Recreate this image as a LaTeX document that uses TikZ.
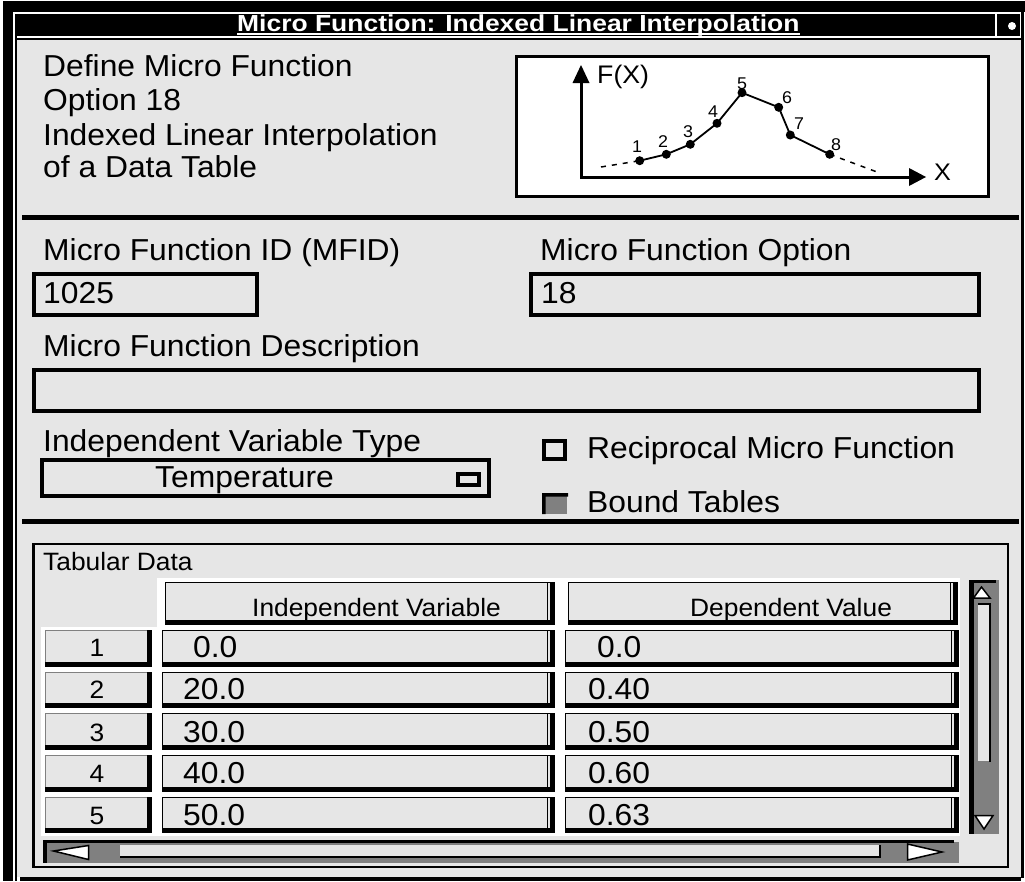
\documentclass[tikz,border=0pt]{standalone}
\usepackage{fontspec}
\setmainfont{Liberation Sans}[FakeStretch=1.05]
\newfontfamily\titlefont{Liberation Sans}[FakeStretch=1.14]
\usetikzlibrary{arrows.meta}
\definecolor{panel}{RGB}{230,230,230}
\definecolor{midgray}{RGB}{128,128,128}

% raised table cell: thin outline, heavy bottom/right edge, inner ridge
\newcommand\datacell[4]{%
  \fill[panel] (#1,#2) rectangle (#3,#4);
  \draw[line width=1pt] (#1+0.5,#2+0.5) rectangle (#3-0.5,#4-0.5);
  \fill[black] (#1,#4-5) rectangle (#3,#4);
  \fill[black] (#3-5,#2) rectangle (#3,#4);
  \draw[line width=1pt] (#3-8,#2) -- (#3-8,#4-5);
}
% row number button
\newcommand\rowbtn[4]{%
  \fill[panel] (#1,#2) rectangle (#3,#4);
  \draw[line width=1pt, draw=midgray] (#1+0.5,#2+0.5) rectangle (#3-0.5,#4-0.5);
  \fill[black] (#1,#4-5) rectangle (#3,#4);
  \fill[black] (#3-5,#2) rectangle (#3,#4);
}

\begin{document}
\begin{tikzpicture}[x=1pt,y=-1pt,
  body/.style={anchor=base west, inner sep=0pt, font=\fontsize{30.3}{34}\selectfont},
  smalltext/.style={anchor=base west, inner sep=0pt, font=\fontsize{25.1}{28}\selectfont},
  rownum/.style={anchor=base, inner sep=0pt, font=\fontsize{25.1}{28}\selectfont},
  ptlabel/.style={inner sep=0pt, font=\fontsize{17}{19}\selectfont},
  field/.style={draw=black, line width=4pt, fill=panel},
  axis/.style={line width=3pt},
  curve/.style={line width=1.8pt},
  dots/.style={line width=1.5pt, dash pattern=on 5pt off 6pt},
]
\useasboundingbox (0,0) rectangle (1025,881);
\fill[white] (0,0) rectangle (1025,881);

% window frame
\fill[black] (3,1) rectangle (1025,12);
\fill[black] (3,1) rectangle (13,881);
\fill[black] (15,14) rectangle (17,881);
\fill[black] (1021,1) rectangle (1024,878);
\fill[panel] (17,40) rectangle (1021,877);
\fill[black] (17,37.5) rectangle (1021,39.5);
\fill[black] (20,877) rectangle (1021,881);

% title bar
\fill[black] (15,14) rectangle (995,36);
\fill[black] (997,14) rectangle (1020,36);
\fill[white] (1012,26) circle[radius=4pt];
\node[anchor=base west, text=white, inner sep=0pt,
      font=\titlefont\bfseries\fontsize{23.2}{26}\selectfont] (title) at (237,31.7)
      {Micro Function: Indexed Linear Interpolation};
\draw[white, line width=1.5pt] ([yshift=-2.5pt]title.base west) -- ([yshift=-2.5pt]title.base east);

% heading text
\node[body] (def1) at (43,76) {Define Micro Function};
\node[body] (def2) at (43,110) {Option 18};
\node[body] (def3) at (43,145) {Indexed Linear Interpolation};
\node[body] (def4) at (43,177) {of a Data Table};

% sketch of the interpolated curve
\draw[line width=3pt, fill=white] (516.5,56.5) rectangle (988.5,196.5);
\coordinate (ytip) at (581,65);
\coordinate (xtip) at (926,177);
\draw[axis] (581,80) -- (581,177) -- (910,177);
\fill (ytip) -- (572.5,83) -- (589.5,83) -- cycle;
\fill (xtip) -- (909,168) -- (909,186) -- cycle;
\node[anchor=base west, inner sep=0pt, font=\fontsize{25.4}{28}\selectfont] (fx) at (597,83) {F(X)};
\node[anchor=base west, inner sep=0pt, font=\fontsize{24}{26}\selectfont] (xl) at (934,180) {X};
\coordinate (d1) at (601,167);
\coordinate (d2) at (877,172);
\foreach \n/\px/\py in {1/639.7/160.7, 2/666.3/154.3, 3/690.3/144.3, 4/717/123.3,
                        5/742/92.7, 6/778.7/107.3, 7/790.3/135, 8/829.7/154.3}
  \coordinate (p\n) at (\px,\py);
\draw[curve] (p1) -- (p2) -- (p3) -- (p4) -- (p5) -- (p6) -- (p7) -- (p8);
\draw[dots] (d1) -- (p1);
\draw[dots] (p8) -- (d2);
\foreach \n in {1,...,8} \fill (p\n) circle[radius=4.5pt];
\foreach \n/\lx/\ly in {1/637/147, 2/663/141.7, 3/688/132, 4/713/111.7,
                        5/742/83.3, 6/787/97.5, 7/799/124, 8/836/144.5}
  \node[ptlabel] (l\n) at (\lx,\ly) {\n};

% section rules
\fill[black] (22,215) rectangle (1019,220);
\fill[black] (22,518.5) rectangle (1019,524);

% identification fields
\node[body] (idlbl) at (43,260) {Micro Function ID (MFID)};
\draw[field] (34,274) rectangle (257,315);
\node[body] (idval) at (43,303) {1025};
\node[body] (optlbl) at (540,260) {Micro Function Option};
\draw[field] (531,274) rectangle (979,315);
\node[body] (optval) at (541,303) {18};
\node[body] (desclbl) at (43,356) {Micro Function Description};
\draw[field] (34,370) rectangle (979,411);
\node[body] (typelbl) at (43,451) {Independent Variable Type};
\draw[field] (42,460) rectangle (489,496);
\node[body, anchor=base] (typeval) at (244.5,487) {Temperature};
\draw[line width=4pt, fill=panel] (458,474) rectangle (479,485);

% toggles
\draw[line width=4pt, fill=panel] (544,441) rectangle (565,459);
\node[body] (recip) at (587,458) {Reciprocal Micro Function};
\fill[midgray] (542,493) rectangle (567,514);
\fill[black] (542,493) -- (568,493) -- (568,496.5) -- (545.5,496.5) -- (545.5,514) -- (542,514) -- cycle;
\node[body] (bound) at (587,512) {Bound Tables};

% tabular data group
\draw[line width=2.5pt] (33.25,544) rectangle (1007.75,866.75);
\node[smalltext] (tablbl) at (43,570) {Tabular Data};
\fill[white] (157,578) rectangle (960,836);
\fill[white] (41,627) rectangle (157,836);
\datacell{165}{582}{555}{625}
\datacell{568}{582}{958}{625}
\node[smalltext] (hind) at (252,616) {Independent Variable};
\node[smalltext] (hdep) at (690,616) {Dependent Value};
\foreach \r/\ya/\yb/\bl/\ix/\iv/\dx/\dv in {
    1/630/667/657/193/0.0/597/0.0,
    2/672/708/699/183/20.0/588/0.40,
    3/713/750/742/183/30.0/588/0.50,
    4/755/792/783/183/40.0/588/0.60,
    5/797/833/825/183/50.0/588/0.63}
{
  \rowbtn{45}{\ya}{152}{\yb}
  \datacell{162}{\ya}{555}{\yb}
  \datacell{565}{\ya}{959}{\yb}
  \node[rownum] (n\r) at (97,\bl-1) {\r};
  \node[body] (iv\r) at (\ix,\bl) {\iv};
  \node[body] (dv\r) at (\dx,\bl) {\dv};
}

% vertical scroll bar
\fill[midgray] (969,580) rectangle (999,834);
\fill[black] (969,580) rectangle (974,834);
\fill[black] (969,580) rectangle (996,583);
\draw[line width=1.5pt, fill=white] (981.5,587) -- (973.5,598) -- (990,598) -- cycle;
\fill[panel] (978,604) rectangle (989,761);
\draw[line width=2pt] (978,604) -- (990,604) -- (990,762);
\draw[line width=1.5pt, fill=white] (984,829) -- (975,815.5) -- (993,815.5) -- cycle;

% horizontal scroll bar
\fill[midgray] (43,842) rectangle (959,863);
\fill[black] (43,840) rectangle (954,843);
\fill[black] (43,840) rectangle (47,863);
\draw[line width=1.5pt, fill=white] (53.5,851) -- (88.5,845.5) -- (88.5,859.5) -- cycle;
\fill[panel] (120,845) rectangle (879,856);
\draw[line width=2pt] (120,857) -- (880,857) -- (880,845);
\draw[line width=1.5pt, fill=white] (942,852) -- (907.5,844) -- (907.5,860) -- cycle;
\end{tikzpicture}
\end{document}
